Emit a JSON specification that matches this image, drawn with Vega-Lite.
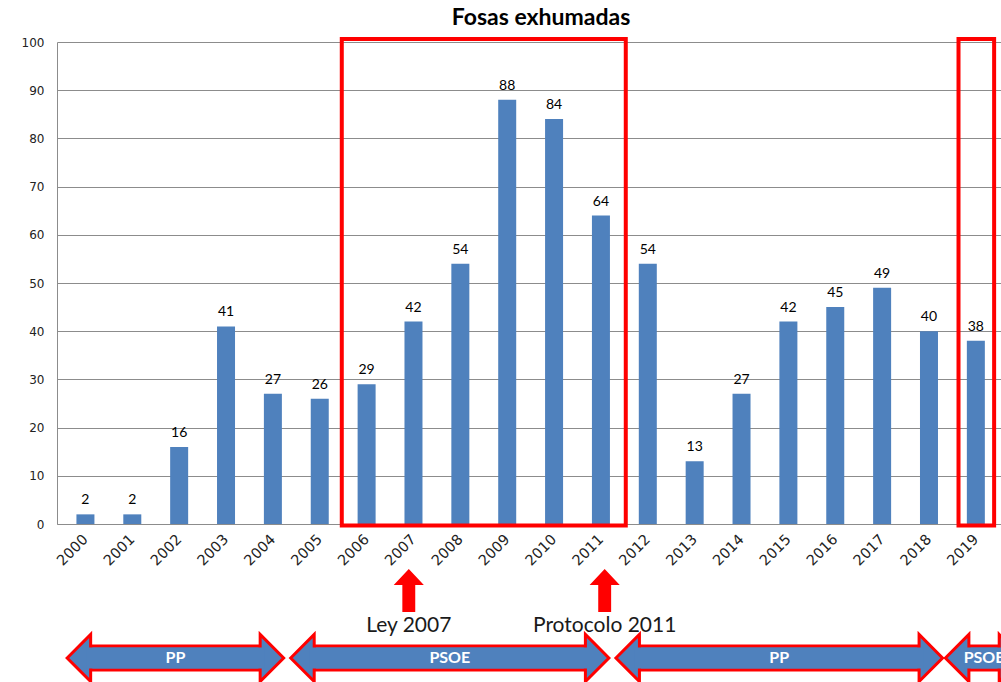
{
  "$schema": "https://vega.github.io/schema/vega-lite/v6.json",
  "width": 944,
  "height": 482,
  "autosize": {"type": "none"},
  "padding": {"left": 57, "top": 42, "right": 0, "bottom": 158},
  "background": "white",
  "title": {"text": "Fosas exhumadas", "font": "Lato", "fontSize": 23, "fontWeight": "bold", "color": "#000000", "anchor": "middle", "dx": 12, "dy": 25, "baseline": "bottom", "offset": 8},
  "config": {"view": {"stroke": null}},
  "datasets": {
    "bars": [
      {"year": 2000, "value": 2}, {"year": 2001, "value": 2}, {"year": 2002, "value": 16},
      {"year": 2003, "value": 41}, {"year": 2004, "value": 27}, {"year": 2005, "value": 26},
      {"year": 2006, "value": 29}, {"year": 2007, "value": 42}, {"year": 2008, "value": 54},
      {"year": 2009, "value": 88}, {"year": 2010, "value": 84}, {"year": 2011, "value": 64},
      {"year": 2012, "value": 54}, {"year": 2013, "value": 13}, {"year": 2014, "value": 27},
      {"year": 2015, "value": 42}, {"year": 2016, "value": 45}, {"year": 2017, "value": 49},
      {"year": 2018, "value": 40}, {"year": 2019, "value": 38}
    ],
    "boxes": [
      {"from": 2005.47, "to": 2011.53, "bottom": -0.3, "top": 100.6},
      {"from": 2018.63, "to": 2019.39, "bottom": -0.3, "top": 100.6}
    ],
    "events": [
      {"label": "Ley 2007", "year": 2006.9},
      {"label": "Protocolo 2011", "year": 2011.08}
    ],
    "periods": [
      {"party": "PP", "start": 1999.61, "end": 2004.23},
      {"party": "PSOE", "start": 2004.38, "end": 2011.17},
      {"party": "PP", "start": 2011.32, "end": 2018.29},
      {"party": "PSOE", "start": 2018.35, "end": 2020.0}
    ]
  },
  "layer": [
    {
      "data": {"name": "bars"},
      "mark": {"type": "bar", "size": 18, "color": "#4F81BD"},
      "encoding": {
        "x": {"field": "year", "type": "quantitative",
          "scale": {"domain": [1999.5, 2019.43], "nice": false, "zero": false},
          "axis": {"values": [2000,2001,2002,2003,2004,2005,2006,2007,2008,2009,2010,2011,2012,2013,2014,2015,2016,2017,2018,2019],
            "format": "d", "labelAngle": -45, "labelAlign": "right", "labelBaseline": "middle", "labelPadding": 13,
            "ticks": false, "grid": false, "domainColor": "#8c8c8c", "labelFont": "DejaVu Sans", "labelFontSize": 14.5,
            "labelColor": "#222222", "title": null, "labelOverlap": false, "labelFlush": false}},
        "y": {"field": "value", "type": "quantitative",
          "scale": {"domain": [0, 100], "nice": false},
          "axis": {"values": [0,10,20,30,40,50,60,70,80,90,100], "grid": true, "gridColor": "#8c8c8c", "ticks": false,
            "domainColor": "#8c8c8c", "labelPadding": 13, "labelFont": "DejaVu Sans", "labelFontSize": 12,
            "labelColor": "#222222", "title": null}}
      }
    },
    {
      "data": {"name": "bars"},
      "mark": {"type": "text", "font": "Lato", "fontSize": 14, "color": "#000000", "baseline": "alphabetic", "dy": -10},
      "encoding": {
        "x": {"field": "year", "type": "quantitative"},
        "y": {"field": "value", "type": "quantitative"},
        "text": {"field": "value", "type": "quantitative"}
      }
    },
    {
      "data": {"name": "boxes"},
      "mark": {"type": "rect", "fill": "transparent", "stroke": "#FF0000", "strokeWidth": 4, "strokeJoin": "miter"},
      "encoding": {
        "x": {"field": "from", "type": "quantitative"},
        "x2": {"field": "to"},
        "y": {"field": "bottom", "type": "quantitative"},
        "y2": {"field": "top"}
      }
    },
    {
      "data": {"name": "events"},
      "mark": {"type": "point", "shape": "M0,-1L0.7,-0.26L0.3,-0.26L0.3,1L-0.3,1L-0.3,-0.26L-0.7,-0.26Z", "size": 1849, "filled": true, "fill": "#FF0000", "strokeWidth": 0, "opacity": 1},
      "encoding": {
        "x": {"field": "year", "type": "quantitative"},
        "y": {"datum": -13.8, "type": "quantitative"}
      }
    },
    {
      "data": {"name": "events"},
      "mark": {"type": "text", "font": "Lato", "fontSize": 21, "color": "#1a1a1a", "baseline": "alphabetic", "align": "center"},
      "encoding": {
        "x": {"field": "year", "type": "quantitative"},
        "y": {"datum": -22.4, "type": "quantitative"},
        "text": {"field": "label"}
      }
    },
    {
      "data": {"name": "periods"},
      "mark": {"type": "rect", "fill": "#4F81BD", "stroke": "#FF0000", "strokeWidth": 3, "xOffset": 23.5, "x2Offset": -23.5, "yOffset": -12, "y2Offset": 12},
      "encoding": {
        "x": {"field": "start", "type": "quantitative"},
        "x2": {"field": "end"},
        "y": {"datum": -27.8, "type": "quantitative"},
        "y2": {"datum": -27.8}
      }
    },
    {
      "data": {"name": "periods"},
      "mark": {"type": "point", "shape": "M0,0L1,-1L1,1Z", "size": 2209, "filled": true, "fill": "#4F81BD", "stroke": "#FF0000", "strokeWidth": 3, "strokeJoin": "miter", "opacity": 1},
      "encoding": {
        "x": {"field": "start", "type": "quantitative"},
        "y": {"datum": -27.8, "type": "quantitative"}
      }
    },
    {
      "data": {"name": "periods"},
      "mark": {"type": "point", "shape": "M0,0L-1,-1L-1,1Z", "size": 2209, "filled": true, "fill": "#4F81BD", "stroke": "#FF0000", "strokeWidth": 3, "strokeJoin": "miter", "opacity": 1},
      "encoding": {
        "x": {"field": "end", "type": "quantitative"},
        "y": {"datum": -27.8, "type": "quantitative"}
      }
    },
    {
      "data": {"name": "periods"},
      "mark": {"type": "rect", "fill": "#4F81BD", "strokeWidth": 0, "xOffset": 19, "x2Offset": -19, "yOffset": -10.5, "y2Offset": 10.5},
      "encoding": {
        "x": {"field": "start", "type": "quantitative"},
        "x2": {"field": "end"},
        "y": {"datum": -27.8, "type": "quantitative"},
        "y2": {"datum": -27.8}
      }
    },
    {
      "data": {"name": "periods"},
      "transform": [
        {"window": [{"op": "row_number", "as": "id"}]},
        {"fold": ["start", "end"], "as": ["edge", "pos"]},
        {"aggregate": [{"op": "mean", "field": "pos", "as": "mid"}], "groupby": ["id", "party"]}
      ],
      "mark": {"type": "text", "font": "Lato", "fontSize": 16, "fontWeight": "bold", "color": "#FFFFFF", "baseline": "alphabetic", "align": "center"},
      "encoding": {
        "x": {"field": "mid", "type": "quantitative"},
        "y": {"datum": -28.8, "type": "quantitative"},
        "text": {"field": "party"}
      }
    }
  ]
}
